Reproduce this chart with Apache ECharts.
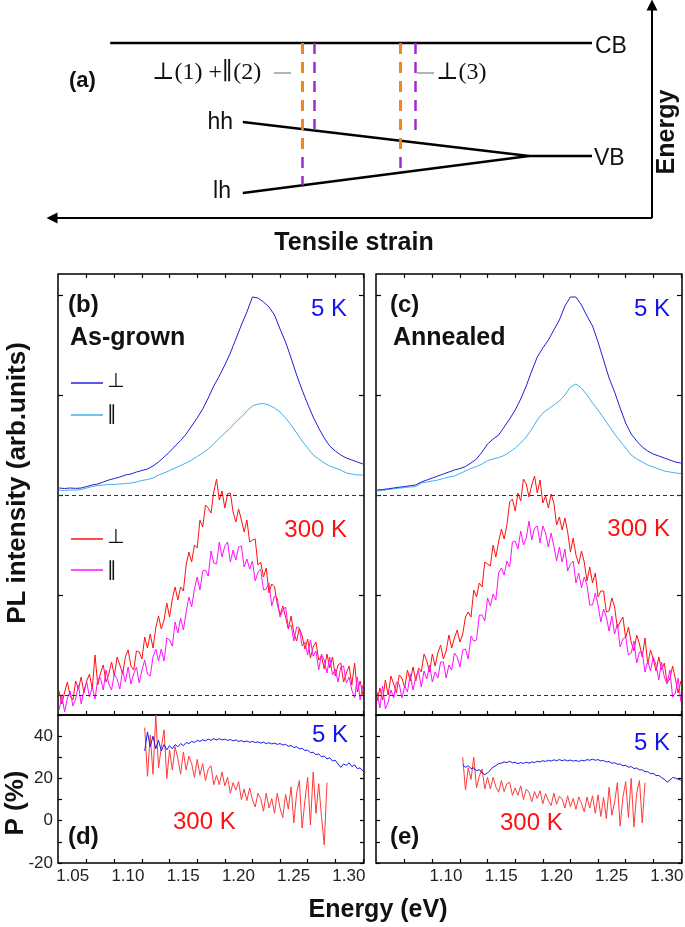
<!DOCTYPE html>
<html>
<head>
<meta charset="utf-8">
<script src="https://cdn.jsdelivr.net/npm/echarts@6/dist/echarts.min.js"></script>
<style>
html, body { margin: 0; padding: 0; background: #fff; }
#chart { width: 685px; height: 927px; }
</style>
</head>
<body>
<div id="chart"></div>
<script>
// ---- panel (a): band sketch, arbitrary units (strain 0..100, energy 0..100)
var bandCB = [[9.7, 82.2], [90, 82.2]];
var bandHH = [[31.8, 45.1], [79.5, 29.1]];
var bandLH = [[31.8, 11.7], [79.5, 29.1]];
var bandVB = [[79.5, 29.1], [90, 29.1]];
var arrowStrain = [[100, 0], [0, 0]];
var arrowEnergy = [[100, 0], [100, 100]];
var transPurple = [
  [[41.75, 82.2], [41.75, 15.4]],
  [[43.7, 82.2], [43.7, 41.1]],
  [[58.1, 82.2], [58.1, 21.3]],
  [[60.5, 82.2], [60.5, 41.3]]
];
var transOrange = [
  [[41.75, 82.2], [41.75, 28.6]],
  [[58.1, 82.2], [58.1, 29.6]]
];

// ---- axes
var X_MIN = 1.024, X_MAX = 1.301;
var xTicks = [1.05, 1.075, 1.10, 1.125, 1.15, 1.175, 1.20, 1.225, 1.25, 1.275, 1.30];
var xLabelsD = [1.05, 1.10, 1.15, 1.20, 1.25, 1.30];
var xLabelsE = [1.10, 1.15, 1.20, 1.25, 1.30];
var plTicks = [0, 1, 2, 3, 4];

// ---- 5 K spectra (drawn shifted up by 2)
var e5K = [1.025,1.030,1.035,1.040,1.045,1.050,1.055,1.060,1.065,1.070,
  1.075,1.080,1.085,1.090,1.095,1.100,1.105,1.110,1.115,1.120,
  1.125,1.130,1.135,1.140,1.145,1.150,1.155,1.160,1.165,1.170,
  1.175,1.180,1.185,1.190,1.195,1.200,1.205,1.210,1.215,1.220,
  1.225,1.230,1.235,1.240,1.245,1.250,1.255,1.260,1.265,1.270,
  1.275,1.280,1.285,1.290,1.295,1.300];
var grown5KPerp = [0.07,0.065,0.07,0.066,0.07,0.085,0.10,0.11,0.13,0.15,
  0.165,0.18,0.20,0.21,0.23,0.245,0.26,0.29,0.33,0.38,
  0.43,0.49,0.545,0.61,0.69,0.77,0.86,0.97,1.09,1.19,
  1.30,1.42,1.56,1.70,1.83,1.98,1.97,1.93,1.88,1.80,
  1.66,1.53,1.37,1.20,1.05,0.91,0.78,0.67,0.57,0.49,
  0.44,0.40,0.37,0.35,0.33,0.31];
var grown5KPar = [0.05,0.045,0.05,0.048,0.055,0.07,0.085,0.095,0.10,0.105,
  0.105,0.11,0.115,0.12,0.13,0.145,0.155,0.17,0.20,0.22,
  0.245,0.27,0.295,0.32,0.35,0.385,0.42,0.46,0.51,0.57,
  0.62,0.67,0.73,0.78,0.84,0.89,0.91,0.915,0.90,0.87,
  0.83,0.77,0.70,0.62,0.54,0.47,0.40,0.36,0.32,0.29,
  0.27,0.25,0.22,0.21,0.20,0.20];
var ann5KPerp = [0.05,0.055,0.062,0.07,0.078,0.085,0.093,0.10,0.13,0.15,
  0.17,0.19,0.21,0.23,0.25,0.265,0.285,0.32,0.36,0.43,
  0.51,0.56,0.60,0.68,0.76,0.85,0.96,1.09,1.24,1.38,
  1.47,1.55,1.65,1.75,1.89,1.98,1.98,1.90,1.79,1.69,
  1.53,1.35,1.17,1.03,0.87,0.72,0.61,0.54,0.48,0.44,
  0.41,0.39,0.37,0.35,0.33,0.32];
var ann5KPar = [0.04,0.045,0.055,0.062,0.068,0.075,0.08,0.085,0.12,0.13,
  0.14,0.15,0.165,0.18,0.19,0.215,0.24,0.265,0.285,0.31,
  0.345,0.36,0.375,0.395,0.43,0.47,0.52,0.58,0.66,0.75,
  0.82,0.86,0.90,0.94,1.00,1.08,1.11,1.07,1.00,0.92,
  0.85,0.77,0.69,0.61,0.54,0.47,0.40,0.36,0.33,0.30,
  0.28,0.26,0.24,0.23,0.22,0.215];

// ---- 300 K spectra
var e300K = [1.025,1.0275,1.03,1.0325,1.035,1.0375,1.04,1.0425,1.045,1.0475,
  1.05,1.0525,1.055,1.0575,1.06,1.0625,1.065,1.0675,1.07,1.0725,
  1.075,1.0775,1.08,1.0825,1.085,1.0875,1.09,1.0925,1.095,1.0975,
  1.1,1.1025,1.105,1.1075,1.11,1.1125,1.115,1.1175,1.12,1.1225,
  1.125,1.1275,1.13,1.1325,1.135,1.1375,1.14,1.1425,1.145,1.1475,
  1.15,1.1525,1.155,1.1575,1.16,1.1625,1.165,1.1675,1.17,1.1725,
  1.175,1.1775,1.18,1.1825,1.185,1.1875,1.19,1.1925,1.195,1.1975,
  1.2,1.2025,1.205,1.2075,1.21,1.2125,1.215,1.2175,1.22,1.2225,
  1.225,1.2275,1.23,1.2325,1.235,1.2375,1.24,1.2425,1.245,1.2475,
  1.25,1.2525,1.255,1.2575,1.26,1.2625,1.265,1.2675,1.27,1.2725,
  1.275,1.2775,1.28,1.2825,1.285,1.2875,1.29,1.2925,1.295,1.2975,
  1.3];
var grown300KPerp = [0.04,-0.09,0.03,0.13,-0.01,-0.05,0.14,0.06,0.18,0.02,
  0.14,0.21,0.06,0.40,0.10,0.22,0.30,0.13,0.21,0.33,
  0.19,0.38,0.30,0.21,0.38,0.45,0.29,0.25,0.44,0.43,
  0.36,0.58,0.47,0.61,0.47,0.67,0.79,0.66,0.75,0.92,
  0.78,0.96,1.08,0.95,1.08,1.04,1.30,1.43,1.33,1.50,
  1.47,1.75,1.68,1.90,1.87,1.82,2.03,2.16,1.95,2.04,
  1.87,2.01,2.02,1.83,1.73,1.86,1.75,1.63,1.75,1.53,
  1.55,1.56,1.30,1.33,1.18,1.27,1.02,1.11,1.08,0.91,
  0.80,0.89,0.78,0.66,0.79,0.62,0.54,0.67,0.59,0.46,
  0.56,0.37,0.48,0.53,0.35,0.39,0.26,0.41,0.27,0.38,
  0.19,0.30,0.32,0.13,0.22,0.29,0.10,0.32,0.03,0.14,
  0.00];
var grown300KPar = [-0.15,-0.01,-0.17,-0.03,0.04,-0.11,-0.04,0.10,-0.09,0.05,
  0.13,-0.02,0.08,-0.04,0.16,0.17,0.05,0.25,0.11,0.05,
  0.21,0.16,0.06,0.25,0.13,0.28,0.11,0.21,0.28,0.12,
  0.25,0.35,0.21,0.19,0.38,0.46,0.34,0.46,0.34,0.57,
  0.55,0.49,0.73,0.62,0.77,0.65,0.83,0.98,0.88,1.06,
  1.18,1.05,1.24,1.25,1.19,1.44,1.32,1.31,1.53,1.38,
  1.49,1.53,1.33,1.45,1.35,1.48,1.49,1.28,1.36,1.26,
  1.34,1.14,1.23,1.26,1.05,1.06,1.12,0.89,0.99,0.97,
  0.78,0.85,0.88,0.67,0.70,0.54,0.68,0.67,0.49,0.53,
  0.40,0.55,0.39,0.44,0.25,0.41,0.35,0.22,0.38,0.20,
  0.26,0.13,0.28,0.29,0.12,0.18,0.05,-0.03,0.18,-0.05,
  0.10];
var ann300KPerp = [-0.06,0.07,-0.05,0.15,0.00,0.19,0.11,0.02,0.20,0.17,
  0.07,0.25,0.14,0.28,0.14,0.27,0.23,0.41,0.34,0.23,
  0.41,0.29,0.42,0.50,0.36,0.44,0.60,0.47,0.57,0.65,
  0.53,0.61,0.78,0.83,0.78,1.05,0.98,1.12,1.08,1.33,
  1.31,1.29,1.50,1.38,1.53,1.66,1.56,1.70,1.93,1.96,
  1.84,2.02,1.94,2.16,2.11,1.98,2.10,2.19,2.02,2.15,
  1.92,1.99,1.87,2.01,1.92,1.70,1.78,1.65,1.77,1.63,
  1.43,1.57,1.40,1.31,1.44,1.33,1.14,1.28,1.12,1.22,
  0.98,1.04,1.04,0.83,0.84,0.97,0.88,0.67,0.73,0.78,
  0.57,0.68,0.53,0.44,0.60,0.51,0.38,0.57,0.31,0.45,
  0.36,0.24,0.38,0.25,0.32,0.12,0.16,0.29,0.16,0.02,
  0.14];
var ann300KPar = [0.03,-0.13,0.09,-0.14,-0.07,0.05,-0.03,0.13,0.11,-0.03,
  0.09,0.03,0.21,0.05,0.18,0.24,0.08,0.24,0.16,0.30,
  0.13,0.23,0.17,0.33,0.33,0.17,0.30,0.25,0.42,0.38,
  0.28,0.45,0.46,0.36,0.59,0.54,0.55,0.80,0.80,0.74,
  0.97,0.89,1.01,0.95,1.22,1.27,1.20,1.34,1.28,1.53,
  1.54,1.46,1.64,1.50,1.57,1.74,1.55,1.67,1.69,1.52,
  1.69,1.62,1.48,1.62,1.49,1.34,1.48,1.33,1.46,1.24,
  1.31,1.34,1.12,1.22,1.07,1.18,1.10,0.90,0.90,1.02,
  0.90,0.73,0.86,0.78,0.64,0.79,0.61,0.71,0.48,0.56,
  0.58,0.40,0.42,0.54,0.32,0.43,0.43,0.23,0.34,0.24,
  0.38,0.30,0.15,0.33,0.18,0.11,0.25,-0.02,0.02,0.17,
  -0.07];

// ---- polarization degree P (%)
var eP = [1.1025,1.105,1.1075,1.11,1.1125,1.115,1.1175,1.12,1.1225,1.125,
  1.1275,1.13,1.1325,1.135,1.1375,1.14,1.1425,1.145,1.1475,1.15,
  1.1525,1.155,1.1575,1.16,1.1625,1.165,1.1675,1.17,1.1725,1.175,
  1.1775,1.18,1.1825,1.185,1.1875,1.19,1.1925,1.195,1.1975,1.2,
  1.2025,1.205,1.2075,1.21,1.2125,1.215,1.2175,1.22,1.2225,1.225,
  1.2275,1.23,1.2325,1.235,1.2375,1.24,1.2425,1.245,1.2475,1.25,
  1.2525,1.255,1.2575,1.26,1.2625,1.265,1.2675,1.27,1.2725,1.275,
  1.2775,1.28,1.2825,1.285,1.2875,1.29,1.2925,1.295,1.2975,1.3];
var grownP5K = [33,42,35,40,34,38,33,36,33.5,35.5,
  34,36,35,36.5,35.5,37,36.5,37.5,37,38,
  37.5,38.3,37.8,38.6,38,38.8,38.2,38.8,38.2,38.6,
  38,38.4,37.8,38.2,37.5,37.9,37.3,37.7,37.1,37.5,
  37,37.3,36.7,37.1,36.5,36.9,36.3,36.7,36.1,36.5,
  35.8,36.1,35.2,35.6,34.6,35,34,34.2,33.2,33.4,
  32.2,32.4,31.2,31.6,30.2,30.6,29.2,29.8,28.2,28.6,
  26.8,25.2,26.8,26.2,27.4,25.6,26.4,24.6,25,23.5];
var grownP300K = [44,21,40.5,22,50,25,34.5,43,20,33.5,
  24,35,29.5,22,32.5,24,30.5,27,20.5,29,
  21.5,27,19,24.5,26,17,21.5,17,23,16.5,
  20.5,13,18,14.5,18.5,10,15,9.5,15.5,10,
  6.5,13,10.5,4.5,13,6,10.5,3.5,13,6,
  1.5,12.5,5.5,16,-1,13,19,-3.5,9.5,20.5,
  -2,23,3.5,17.5,2,-11.5,18];
var annP5K = [26.5,25.2,26,24.6,25,23.6,24.2,22.6,21.8,22.6,
  24,25.4,26,27,27.2,27.8,27.5,28.1,27.4,27.6,
  27,27.5,27.1,27.7,27.2,27.8,27.5,28.1,27.8,28.4,
  28,28.6,28.2,28.8,28.4,28.9,28.4,28.8,28.3,28.7,
  28.2,28.5,28,28.6,28.3,28.9,28.6,29.1,28.6,28.9,
  28.3,28.5,27.8,28,27.2,27.4,26.7,26.8,26,26.2,
  25.3,25.6,24.7,24.9,24,24.1,23.2,23.2,22.2,22.4,
  21.4,21.4,20.4,19.6,18.2,19.2,20.4,20.2,19.6,19.2];
var annP300K = [30,14.5,25,19.5,30,15.5,21,24.5,15,20.5,
  15,20.5,16,13.5,19,13.8,17.5,18.2,12,15.5,
  12,16.5,10,14.8,13.5,9,13.8,10.5,14.2,8,
  12.8,9.5,7.2,13,7.8,11.5,10.3,6,11.8,6.6,
  10.5,5.4,11.3,8.2,4.2,11.2,6,11.8,3.5,12.2,
  2,11,1,15.8,2.6,8.8,18,-2.5,11,18.5,
  1.5,20,-3,13,19,-1,18];

var FONT = 'Liberation Sans, Arial, sans-serif';
var SYM = 'DejaVu Sans, sans-serif';
var SERIF = 'Liberation Serif, DejaVu Serif, serif';
var C = {
  blue: '#2020d8', lightBlue: '#40b0f0', red: '#ff1010', magenta: '#ff10ff',
  pBlue: '#1a1ae6', pRed: '#ff3a3a', txtBlue: '#1414f0', txtRed: '#ff1010',
  orange: '#f58a1f', purple: '#a02ad0'
};

var tickLine = { color: '#000', width: 1.2 };

function xAx(grid, pos, labels) {
  return {
    type: 'value', gridIndex: grid, position: pos, min: X_MIN, max: X_MAX,
    axisLine: { show: false, onZero: false }, splitLine: { show: false },
    axisTick: { show: true, inside: true, length: 4, customValues: xTicks, lineStyle: tickLine },
    axisLabel: labels ? {
      show: true, customValues: labels, margin: 5, padding: [0, 28, 0, 0],
      formatter: function (v) { return v.toFixed(2); },
      fontSize: 17, fontFamily: FONT, color: '#222'
    } : { show: false }
  };
}
function yAxPL(grid, pos) {
  return {
    type: 'value', gridIndex: grid, position: pos, min: -0.2, max: 4.21,
    axisLine: { show: false, onZero: false }, splitLine: { show: false },
    axisTick: { show: true, inside: true, length: 5, customValues: plTicks, lineStyle: tickLine },
    axisLabel: { show: false }
  };
}
function yAxP(grid, pos, labels) {
  return {
    type: 'value', gridIndex: grid, position: pos, min: -20, max: 50, interval: 10,
    axisLine: { show: false, onZero: false }, splitLine: { show: false },
    axisTick: { show: true, inside: true, length: 4, lineStyle: tickLine },
    axisLabel: labels ? {
      show: true, margin: 5, fontSize: 17, fontFamily: FONT, color: '#222',
      formatter: function (v) { return v % 20 === 0 ? String(v) : ''; }
    } : { show: false }
  };
}

function line(xi, yi, xs, ys, color, offset, z) {
  return {
    type: 'line', xAxisIndex: xi, yAxisIndex: yi,
    data: ys.map(function (v, i) { return [xs[i], v + (offset || 0)]; }),
    showSymbol: false, symbol: 'none', silent: true, animation: false, z: z || 2,
    lineStyle: { color: color, width: 1 }, itemStyle: { color: color }
  };
}
function sketch(data, color, width) {
  return {
    type: 'line', xAxisIndex: 0, yAxisIndex: 0, data: data, showSymbol: false, symbol: 'none',
    silent: true, animation: false, lineStyle: { color: color, width: width }
  };
}
function dashes(list, color, z) {
  return {
    type: 'lines', coordinateSystem: 'cartesian2d', xAxisIndex: 0, yAxisIndex: 0, z: z,
    data: list.map(function (c) { return { coords: c }; }), symbol: 'none', silent: true, animation: false,
    lineStyle: { color: color, width: 2.5, type: [11, 8], opacity: 1, curveness: 0 }
  };
}
var zeroLines = {
  silent: true, symbol: 'none', animation: false, label: { show: false },
  lineStyle: { color: '#333', width: 1, type: [4, 3] },
  data: [{ yAxis: 0 }, { yAxis: 2 }]
};

function txt(text, x, y, size, o) {
  o = o || {};
  return {
    type: 'text', x: x, y: y, rotation: o.rot || 0, z: 100,
    style: {
      text: text, fontSize: size, fontWeight: o.bold ? 'bold' : 'normal',
      fontFamily: o.font || FONT, fill: o.color || '#111',
      align: o.align || 'left', verticalAlign: 'middle'
    }
  };
}
function seg(x1, y1, x2, y2, color, w) {
  return { type: 'line', z: 100, shape: { x1: x1, y1: y1, x2: x2, y2: y2 }, style: { stroke: color, lineWidth: w } };
}

var chart = echarts.init(document.getElementById('chart'), null, { renderer: 'canvas' });
chart.setOption({
  backgroundColor: '#fff',
  animation: false,
  grid: [
    { left: 52, top: 5, width: 600, height: 213, show: false },
    { left: 58, top: 274, width: 306, height: 441, show: true, borderColor: '#000', borderWidth: 1.5, outerBoundsMode: 'none' },
    { left: 376, top: 274, width: 306, height: 441, show: true, borderColor: '#000', borderWidth: 1.5, outerBoundsMode: 'none' },
    { left: 58, top: 715, width: 306, height: 148, show: true, borderColor: '#000', borderWidth: 1.5, outerBoundsMode: 'none' },
    { left: 376, top: 715, width: 306, height: 148, show: true, borderColor: '#000', borderWidth: 1.5, outerBoundsMode: 'none' }
  ],
  xAxis: [
    { type: 'value', gridIndex: 0, min: 0, max: 100, show: false },
    xAx(1, 'bottom'), xAx(1, 'top'),
    xAx(2, 'bottom'), xAx(2, 'top'),
    xAx(3, 'bottom', xLabelsD),
    xAx(4, 'bottom', xLabelsE)
  ],
  yAxis: [
    { type: 'value', gridIndex: 0, min: 0, max: 100, show: false },
    yAxPL(1, 'left'), yAxPL(1, 'right'),
    yAxPL(2, 'left'), yAxPL(2, 'right'),
    yAxP(3, 'left', true), yAxP(3, 'right'),
    yAxP(4, 'left'), yAxP(4, 'right')
  ],
  series: [
    // (a)
    sketch(bandCB, '#000', 2.5),
    sketch(bandHH, '#000', 2.5),
    sketch(bandLH, '#000', 2.5),
    sketch(bandVB, '#000', 2.5),
    dashes(transPurple, C.purple, 5),
    dashes(transOrange, C.orange, 6),
    {
      type: 'lines', coordinateSystem: 'cartesian2d', xAxisIndex: 0, yAxisIndex: 0, clip: false,
      data: [{ coords: arrowStrain }, { coords: arrowEnergy }],
      symbol: ['none', 'triangle'], symbolSize: 11, silent: true, animation: false,
      lineStyle: { color: '#000', width: 2, opacity: 1, curveness: 0 }
    },
    // (b) as-grown
    Object.assign(line(1, 1, e5K, grown5KPar, C.lightBlue, 2), { markLine: zeroLines }),
    line(1, 1, e5K, grown5KPerp, C.blue, 2),
    line(1, 1, e300K, grown300KPerp, C.red, 0, 3),
    line(1, 1, e300K, grown300KPar, C.magenta, 0, 4),
    // (c) annealed
    Object.assign(line(3, 3, e5K, ann5KPar, C.lightBlue, 2), { markLine: zeroLines }),
    line(3, 3, e5K, ann5KPerp, C.blue, 2),
    line(3, 3, e300K, ann300KPerp, C.red, 0, 3),
    line(3, 3, e300K, ann300KPar, C.magenta, 0, 4),
    // (d), (e) polarization
    line(5, 5, eP, grownP300K, C.pRed, 0, 3),
    line(5, 5, eP, grownP5K, C.pBlue, 0, 4),
    line(6, 7, eP, annP300K, C.pRed, 0, 3),
    line(6, 7, eP, annP5K, C.pBlue, 0, 4)
  ],
  graphic: [
    // (a) labels
    txt('(a)', 69, 81, 22, { bold: true }),
    txt('\u22A5(1) +\u2225(2)', 152, 73, 24, { font: SERIF }),
    seg(274, 73, 291, 73, '#666', 1),
    seg(417, 73, 434, 73, '#666', 1),
    txt('\u22A5(3)', 436, 73, 24, { font: SERIF }),
    txt('hh', 233, 123, 23, { align: 'right' }),
    txt('lh', 231, 192, 23, { align: 'right' }),
    txt('CB', 595, 47, 23),
    txt('VB', 594, 159, 23),
    txt('Tensile strain', 354, 243, 25, { bold: true, align: 'center' }),
    txt('Energy', 667, 132, 25, { bold: true, align: 'center', rot: Math.PI / 2 }),
    // (b)
    txt('(b)', 68, 305, 24, { bold: true }),
    txt('As-grown', 70, 338, 25, { bold: true }),
    txt('5 K', 347, 309, 24, { color: C.txtBlue, align: 'right' }),
    seg(71, 383, 103, 383, C.blue, 1.5),
    txt('\u22A5', 107, 382, 20, { font: SYM }),
    seg(71, 415, 103, 415, C.lightBlue, 1.5),
    txt('\u2225', 107, 415, 20, { font: SYM }),
    txt('300 K', 347, 530, 24, { color: C.txtRed, align: 'right' }),
    seg(71, 539, 103, 539, C.red, 1.5),
    txt('\u22A5', 107, 538, 20, { font: SYM }),
    seg(71, 570, 103, 570, C.magenta, 1.5),
    txt('\u2225', 107, 571, 20, { font: SYM }),
    // (c)
    txt('(c)', 390, 305, 24, { bold: true }),
    txt('Annealed', 393, 338, 25, { bold: true }),
    txt('5 K', 670, 309, 24, { color: C.txtBlue, align: 'right' }),
    txt('300 K', 670, 529, 24, { color: C.txtRed, align: 'right' }),
    // (d), (e)
    txt('5 K', 348, 735, 24, { color: C.txtBlue, align: 'right' }),
    txt('300 K', 173, 822, 24, { color: C.txtRed }),
    txt('(d)', 68, 837, 24, { bold: true }),
    txt('5 K', 670, 743, 24, { color: C.txtBlue, align: 'right' }),
    txt('300 K', 500, 823, 24, { color: C.txtRed }),
    txt('(e)', 390, 837, 24, { bold: true }),
    // axis titles
    txt('PL intensity (arb.units)', 18, 483, 26, { bold: true, align: 'center', rot: Math.PI / 2 }),
    txt('P (%)', 16, 803, 26, { bold: true, align: 'center', rot: Math.PI / 2 }),
    txt('Energy (eV)', 378, 910, 25, { bold: true, align: 'center' })
  ]
});
</script>
</body>
</html>
